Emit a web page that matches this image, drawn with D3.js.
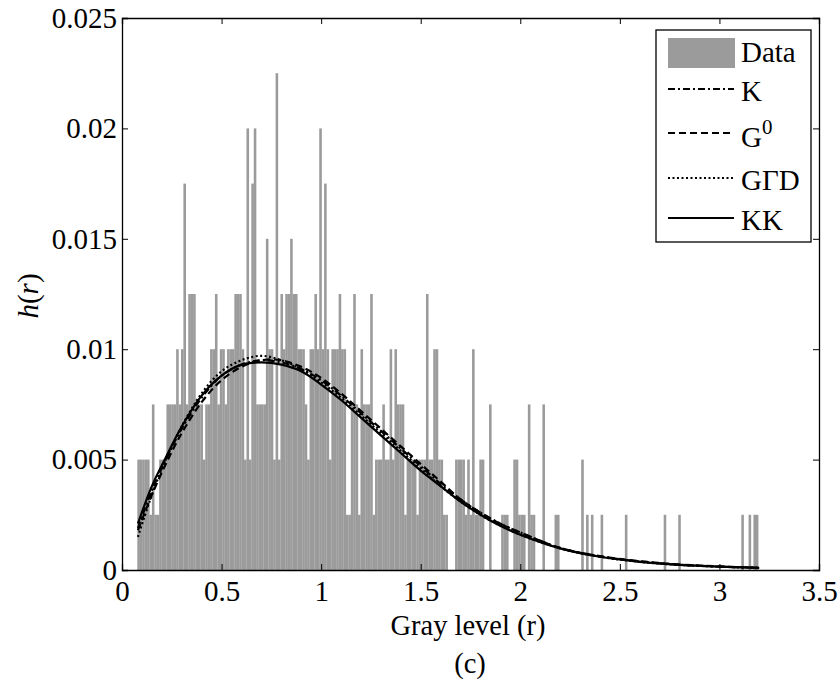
<!DOCTYPE html>
<html><head><meta charset="utf-8">
<script src="https://cdn.jsdelivr.net/npm/d3@7"></script>
<style>
body{margin:0;background:#fff}
svg text{font-family:"Liberation Serif","Times New Roman",Times,serif;fill:#000}
</style>
</head><body>
<svg id="chart" width="840" height="684"></svg>
<script>
// ---------------- data ----------------
const histStart = 0.077;      // left edge of first bin (gray level)
const histBinWidth = 0.01218; // bin width (gray level)
const histValues = [
0.005,0.005,0.005,0.005,0.005,0.0025,0.0075,0.0025,0.0025,0.005,
0.005,0.005,0.0075,0.0075,0.0075,0.0075,0.01,0.0075,0.01,0.0175,
0.0075,0.0125,0.0125,0.0125,0.0075,0.0075,0.0075,0.005,0.0075,0.0075,
0.01,0.01,0.0125,0.0075,0.01,0.01,0.0075,0.01,0.01,0.01,
0.0125,0.0125,0.0125,0.01,0.005,0.02,0.005,0.0175,0.02,0.0075,
0.0075,0.0075,0.0075,0.015,0.01,0.01,0.005,0.0225,0.005,0.0125,
0.01,0.0125,0.0125,0.015,0.0125,0.0125,0.01,0.01,0.01,0.0075,
0.005,0.01,0.01,0.0125,0.01,0.02,0.01,0.0175,0.01,0.005,
0.01,0.01,0.01,0.0125,0.01,0.01,0.0025,0.0025,0.0075,0.0125,
0.0075,0.0025,0.01,0.0075,0.0075,0.0075,0.0125,0.0025,0.005,0.005,
0.005,0.0075,0.005,0.005,0.01,0.005,0.01,0.0075,0.0075,0.0075,
0.0025,0.005,0.005,0.005,0.005,0.0025,0.005,0.005,0.005,0.0125,
0.005,0.005,0.01,0.01,0.005,0.005,0.0025,0.0025,0,0,
0,0.005,0.005,0.005,0.005,0.0025,0.005,0.0025,0.01,0.0025,
0.0025,0.005,0.005,0,0,0.0075,0,0,0,0,
0.0025,0.0025,0.0025,0,0,0.005,0.005,0.0025,0.0025,0.0025,
0,0.0075,0.0025,0.0025,0,0,0,0.0075,0,0,
0,0,0.0025,0.0025,0,0,0,0,0,0,
0,0,0,0.005,0,0.0025,0,0.0025,0,0,
0,0.0025,0,0,0,0,0,0,0,0,
0,0.0025,0,0,0,0,0,0,0,0,
0,0,0,0,0,0,0,0.0025,0,0,
0,0,0,0.0025,0,0,0,0,0,0,
0,0,0,0,0,0,0,0,0,0,
0,0,0,0,0,0,0,0,0,0.0025,
0,0,0.0025,0,0.0025,0.0025
];

const fitR      = [0.08,0.15,0.22,0.3,0.4,0.5,0.6,0.7,0.8,0.9,1.0,1.1,1.2,1.3,1.4,1.5,1.6,1.7,1.8,1.9,2.0,2.2,2.4,2.6,2.8,3.0,3.2];
const kValues   = [0.0019,0.0036,0.0050,0.0064,0.0078,0.0088,0.0093,0.0095,0.0094,0.0091,0.0086,0.0079,0.0071,0.0063,0.0055,0.0047,0.0039,0.0032,0.0026,0.0021,0.0017,0.0010,0.00062,0.00039,0.00024,0.00015,0.0001];
const g0Values  = [0.0018,0.0034,0.0048,0.0062,0.0076,0.0086,0.0092,0.0095,0.0095,0.0092,0.0087,0.0080,0.0072,0.0064,0.0056,0.0048,0.0040,0.0032,0.0026,0.0021,0.0017,0.0010,0.00063,0.00040,0.00025,0.00016,0.0001];
const ggdValues = [0.0015,0.0034,0.0050,0.0065,0.0080,0.0090,0.0095,0.0097,0.0095,0.0091,0.0085,0.0078,0.0070,0.0062,0.0054,0.0046,0.0038,0.0031,0.0025,0.0020,0.0016,0.00098,0.00060,0.00037,0.00023,0.00015,0.0001];
const kkValues  = [0.0021,0.0038,0.0051,0.0065,0.0079,0.0088,0.0093,0.0094,0.0093,0.0090,0.0084,0.0077,0.0069,0.0061,0.0053,0.0045,0.0038,0.0031,0.0025,0.0020,0.0016,0.00098,0.00060,0.00037,0.00023,0.00015,0.0001];

const xTicks = [0,0.5,1,1.5,2,2.5,3,3.5];
const xTickLabels = ["0","0.5","1","1.5","2","2.5","3","3.5"];
const yTicks = [0,0.005,0.01,0.015,0.02,0.025];
const yTickLabels = ["0","0.005","0.01","0.015","0.02","0.025"];
const legendNames = ["Data","K","G0","G\u0393D","KK"];

// ---------------- layout ----------------
const FONT = '"Liberation Serif","Times New Roman",Times,serif';
const svg = d3.select("#chart");
const L = 122, T = 18, R = 819, B = 570;
const x = d3.scaleLinear().domain([0,3.5]).range([L,R]);
const y = d3.scaleLinear().domain([0,0.025]).range([B,T]);
const gray = "#9b9b9b";

// bars
const bars = histValues.map((v,i)=>({x0: histStart + i*histBinWidth, v}));
const gb = svg.append("g");
bars.filter(d=>d.v>0).forEach(d=>{
  const px0 = x(d.x0), px1 = x(d.x0 + histBinWidth);
  gb.append("rect").attr("x",px0).attr("y",y(d.v))
    .attr("width",px1-px0+0.15).attr("height",B-y(d.v))
    .attr("fill",gray);
});

// curves
const series = [
  {vals:kValues,   dash:"7,3,2,3"},
  {vals:g0Values,  dash:"7,4"},
  {vals:ggdValues, dash:"2,2.5"},
  {vals:kkValues,  dash:null}
];
const line = d3.line().x(d=>x(d[0])).y(d=>y(d[1])).curve(d3.curveCatmullRom.alpha(0.5));
series.forEach(s=>{
  const p = svg.append("path").datum(fitR.map((r,i)=>[r,s.vals[i]]))
    .attr("d",line).attr("fill","none").attr("stroke","#000").attr("stroke-width",2.2);
  if(s.dash) p.attr("stroke-dasharray",s.dash);
});

// axes
const fs = 29;
const ax = svg.append("g").attr("transform",`translate(0,${B})`)
  .call(d3.axisBottom(x).tickValues(xTicks).tickFormat((d,i)=>xTickLabels[i]).tickSize(-6).tickPadding(10));
const axTop = svg.append("g").attr("transform",`translate(0,${T})`)
  .call(d3.axisTop(x).tickValues(xTicks).tickFormat("").tickSize(-6));
const ay = svg.append("g").attr("transform",`translate(${L},0)`)
  .call(d3.axisLeft(y).tickValues(yTicks).tickFormat((d,i)=>yTickLabels[i]).tickSize(-6).tickPadding(5));
const ayR = svg.append("g").attr("transform",`translate(${R},0)`)
  .call(d3.axisRight(y).tickValues(yTicks).tickFormat("").tickSize(-6));
[ax,axTop,ay,ayR].forEach(g=>{
  g.attr("font-family",FONT);
  g.selectAll(".domain").attr("stroke","#000").attr("stroke-width",1.3);
  g.selectAll(".tick line").attr("stroke","#000").attr("stroke-width",1);
  g.selectAll(".tick text").attr("font-size",fs).attr("fill","#000");
});

// axis titles
svg.append("text").attr("x",468).attr("y",635).attr("text-anchor","middle")
  .attr("font-size",28.5).text("Gray level (r)");
svg.append("text").attr("x",470).attr("y",673).attr("text-anchor","middle")
  .attr("font-size",28.5).text("(c)");
const yl = svg.append("text").attr("transform","translate(38,296) rotate(-90)")
  .attr("text-anchor","middle").attr("font-size",fs);
yl.append("tspan").attr("font-style","italic").text("h");
yl.append("tspan").text("(");
yl.append("tspan").attr("font-style","italic").text("r");
yl.append("tspan").text(")");

// legend
const lg = svg.append("g");
lg.append("rect").attr("x",656).attr("y",30).attr("width",155).attr("height",212)
  .attr("fill","#fff").attr("stroke","#000").attr("stroke-width",1.3);
lg.append("rect").attr("x",668).attr("y",38).attr("width",67).attr("height",30).attr("fill",gray);
const legY = [53, 89, 133, 178, 218];
const legTxt = [62, 101, 147, 190, 230];
series.forEach((s,i)=>{
  const l = lg.append("line").attr("x1",668).attr("x2",734).attr("y1",legY[i+1]).attr("y2",legY[i+1])
    .attr("stroke","#000").attr("stroke-width",2.2);
  if(s.dash) l.attr("stroke-dasharray",s.dash);
});
legendNames.forEach((n,i)=>{
  const t = lg.append("text").attr("x",741).attr("y",legTxt[i]).attr("font-size",fs);
  if(n==="G0"){ t.append("tspan").text("G"); t.append("tspan").attr("font-size",21).attr("dy",-13).text("0"); }
  else t.text(n);
});
</script>
</body></html>
